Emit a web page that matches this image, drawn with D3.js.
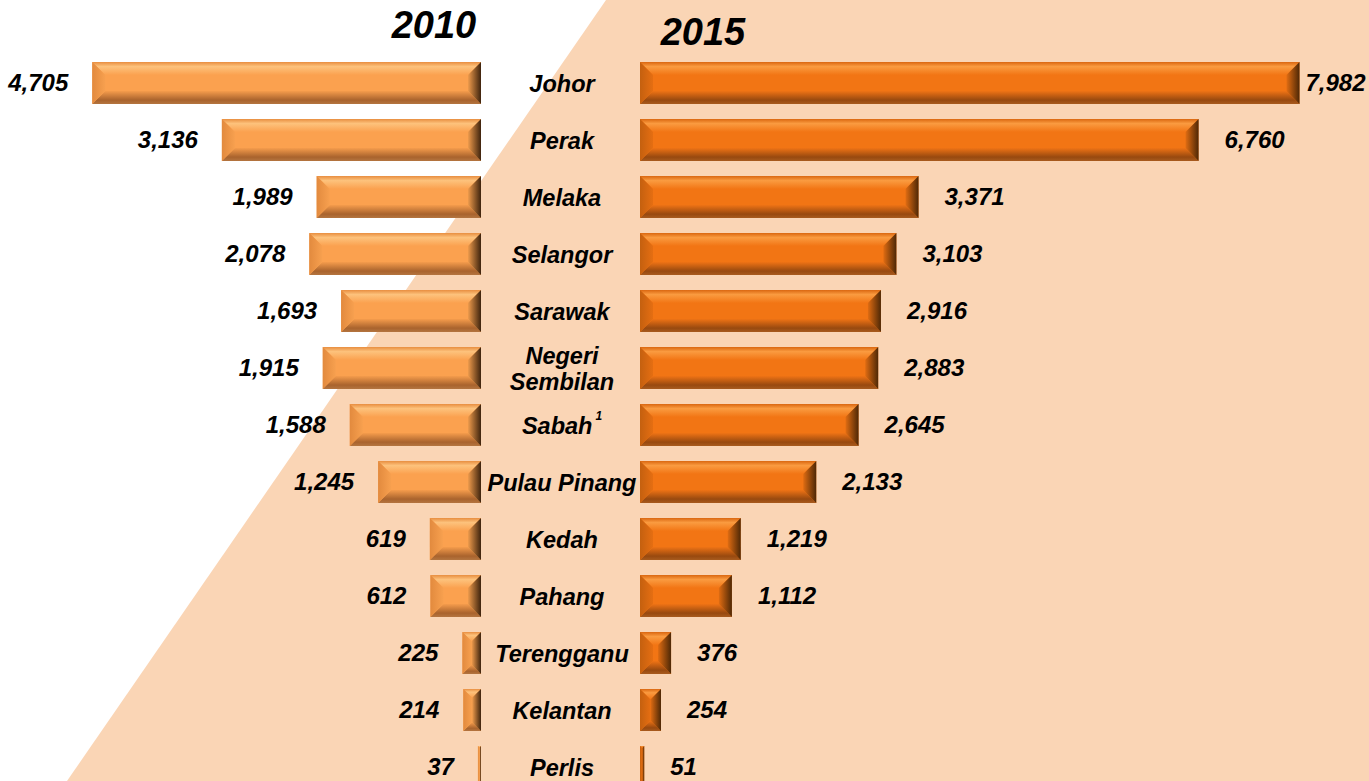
<!DOCTYPE html>
<html>
<head>
<meta charset="utf-8">
<script src="https://cdn.jsdelivr.net/npm/d3@7"></script>
<style>
  html, body { margin: 0; padding: 0; background: #ffffff; }
  svg { display: block; }
  text { font-family: "Liberation Sans", Arial, sans-serif; font-weight: bold; font-style: italic; fill: #000; }
</style>
</head>
<body>
<svg id="chart" width="1369" height="781"></svg>
<script>
// States, ordered as listed
const states = ["Johor", "Perak", "Melaka", "Selangor", "Sarawak", "Negeri Sembilan",
  "Sabah", "Pulau Pinang", "Kedah", "Pahang", "Terengganu", "Kelantan", "Perlis"];
// Values for 2010 (left) and 2015 (right)
const values2010 = [4705, 3136, 1989, 2078, 1693, 1915, 1588, 1245, 619, 612, 225, 214, 37];
const values2015 = [7982, 6760, 3371, 3103, 2916, 2883, 2645, 2133, 1219, 1112, 376, 254, 51];
const yearLabels = ["2010", "2015"];
// Footnote marks attached to state names
const footnotes = { "Sabah": "1" };

const W = 1369, H = 781;
const svg = d3.select("#chart");
const defs = svg.append("defs");

// Diagonal peach backdrop
svg.append("polygon")
  .attr("points", [[606, 0], [W, 0], [W, H], [67, H]].map(p => p.join(",")).join(" "))
  .attr("fill", "#FAD5B5");

const leftAxisX = 481;   // right edge of the 2010 bars
const rightAxisX = 640;  // left edge of the 2015 bars
const centerX = 562;

const len = d3.scaleLinear().domain([0, 8000]).range([0, 661]);
const y = d3.scaleBand().domain(states).range([62, 788]).paddingInner(15 / 57).paddingOuter(0);

// Gradients for the bevelled bars
function lin(id, x1, y1, x2, y2, stops) {
  const g = defs.append("linearGradient").attr("id", id)
    .attr("x1", x1).attr("y1", y1).attr("x2", x2).attr("y2", y2);
  stops.forEach(([o, c]) => g.append("stop").attr("offset", o).attr("stop-color", c));
}
const palettes = {
  a: { body: "#FBA14F",
       top: [[0, "#E88E40"], [0.35, "#FDC27C"], [1, "#FBA14F"]],
       bottom: [[0, "#F59C4C"], [0.7, "#A9632D"], [1, "#B47540"]],
       left: [[0, "#E28A3E"], [1, "#F7A04F"]],
       right: [[0, "#EF9B4C"], [1, "#3E230D"]] },
  b: { body: "#F27514",
       top: [[0, "#DA6710"], [0.35, "#FA9B40"], [1, "#F27514"]],
       bottom: [[0, "#EF7315"], [0.7, "#98490F"], [1, "#A85B1E"]],
       left: [[0, "#C4600F"], [1, "#E56E12"]],
       right: [[0, "#E06C12"], [1, "#4E2806"]] }
};
Object.entries(palettes).forEach(([k, p]) => {
  lin("top-" + k, 0, 0, 0, 1, p.top);
  lin("bot-" + k, 0, 0, 0, 1, p.bottom);
  lin("lft-" + k, 0, 0, 1, 0, p.left);
  lin("rgt-" + k, 0, 0, 1, 0, p.right);
});

function pts(arr) { return arr.map(p => p.join(",")).join(" "); }

function bevelBar(g, x0, x1, y0, y1, k) {
  const w = x1 - x0, h = y1 - y0;
  const b = Math.min(13, w / 2, h / 2);
  const p = palettes[k];
  g.append("rect").attr("x", x0).attr("y", y0).attr("width", w).attr("height", h).attr("fill", p.body);
  g.append("polygon").attr("points", pts([[x0, y0], [x1, y0], [x1 - b, y0 + b], [x0 + b, y0 + b]]))
    .attr("fill", `url(#top-${k})`);
  g.append("polygon").attr("points", pts([[x0 + b, y1 - b], [x1 - b, y1 - b], [x1, y1], [x0, y1]]))
    .attr("fill", `url(#bot-${k})`);
  g.append("polygon").attr("points", pts([[x0, y0], [x0 + b, y0 + b], [x0 + b, y1 - b], [x0, y1]]))
    .attr("fill", `url(#lft-${k})`);
  g.append("polygon").attr("points", pts([[x1, y0], [x1, y1], [x1 - b, y1 - b], [x1 - b, y0 + b]]))
    .attr("fill", `url(#rgt-${k})`);
}

const fmt = d3.format(",");
const bars = svg.append("g");
const labels = svg.append("g");

states.forEach((s, i) => {
  const y0 = y(s), y1 = y0 + y.bandwidth(), yc = y0 + y.bandwidth() / 2;

  // 2010 bar grows leftwards
  const lx0 = leftAxisX - len(values2010[i]);
  bevelBar(bars, lx0, leftAxisX, y0, y1, "a");
  labels.append("text").attr("x", lx0 - 24).attr("y", yc + 8)
    .attr("text-anchor", "end").attr("font-size", 24).text(fmt(values2010[i]));

  // 2015 bar grows rightwards
  const rx1 = rightAxisX + len(values2015[i]);
  bevelBar(bars, rightAxisX, rx1, y0, y1, "b");
  const t = labels.append("text").attr("x", rx1 + 26).attr("y", yc + 8)
    .attr("font-size", 24).text(fmt(values2015[i]));
  const tw = t.node().getComputedTextLength();
  if (rx1 + 26 + tw > W - 4) t.attr("x", Math.max(rx1 + 6, W - 5 - tw));

  // State name
  const words = s === "Negeri Sembilan" ? ["Negeri", "Sembilan"] : [s];
  const name = labels.append("text").attr("x", centerX).attr("text-anchor", "middle")
    .attr("font-size", 23.5);
  words.forEach((wd, j) => {
    name.append("tspan").attr("x", centerX)
      .attr("y", yc + 9 + (j - (words.length - 1) / 2) * 26).text(wd);
  });
  if (footnotes[s]) {
    name.append("tspan").attr("font-size", 12).attr("dx", 3).attr("dy", -14).text(footnotes[s]);
  }
});

// Year headings
svg.append("text").attr("x", 434).attr("y", 38).attr("text-anchor", "middle")
  .attr("font-size", 38).text(yearLabels[0]);
svg.append("text").attr("x", 703).attr("y", 45).attr("text-anchor", "middle")
  .attr("font-size", 38).text(yearLabels[1]);
</script>
</body>
</html>
